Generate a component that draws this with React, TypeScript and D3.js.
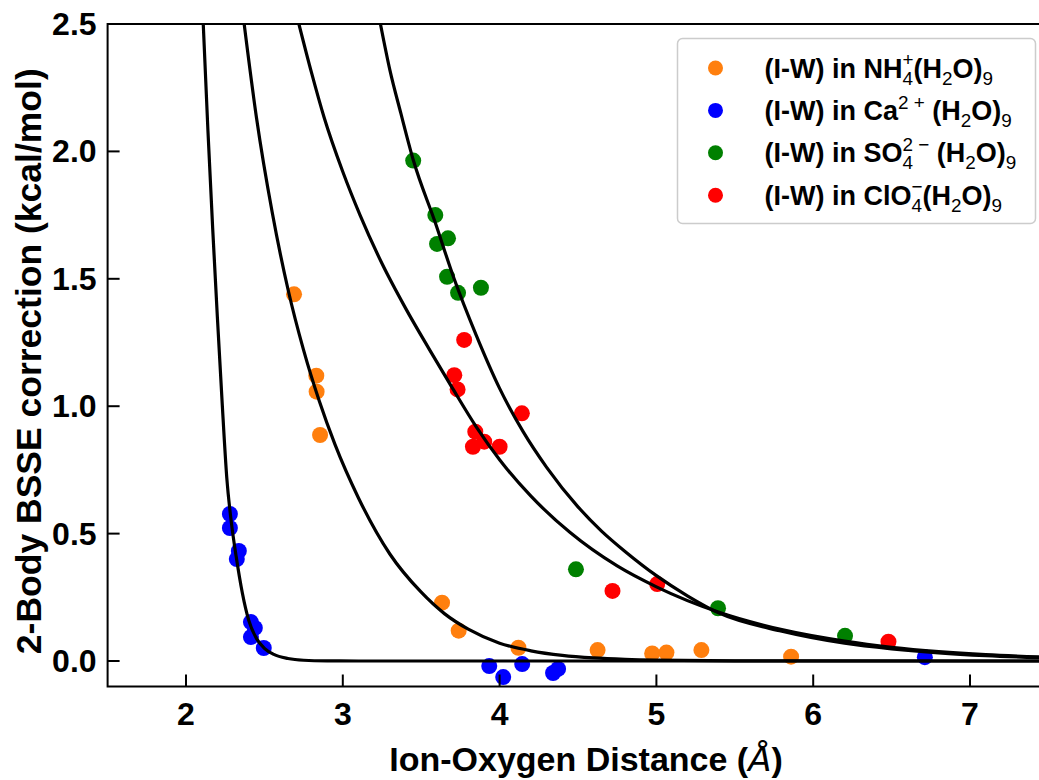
import React from 'react';
import * as d3 from 'd3';

// ---------- data ----------
const xTicks = [2, 3, 4, 5, 6, 7];
const yTicks = [0.0, 0.5, 1.0, 1.5, 2.0, 2.5];

const nh4X = [2.689, 2.831, 2.833, 2.855, 3.633, 3.739, 4.12, 4.625, 4.973, 5.064, 5.287, 5.859];
const nh4Y = [1.439, 1.12, 1.057, 0.887, 0.229, 0.119, 0.052, 0.043, 0.03, 0.033, 0.043, 0.017];

const caX = [2.28, 2.28, 2.337, 2.324, 2.414, 2.439, 2.414, 2.496, 3.934, 4.023, 4.144, 4.341, 4.373, 6.712];
const caY = [0.577, 0.522, 0.432, 0.4, 0.153, 0.13, 0.094, 0.051, -0.02, -0.063, -0.012, -0.047, -0.031, 0.015];

const so4X = [3.449, 3.59, 3.601, 3.671, 3.665, 3.735, 3.881, 4.487, 5.393, 6.203];
const so4Y = [1.964, 1.75, 1.637, 1.659, 1.508, 1.445, 1.465, 0.36, 0.207, 0.099];

const clo4X = [3.774, 3.711, 3.732, 4.142, 3.845, 3.902, 3.83, 4.0, 4.72, 5.005, 6.48];
const clo4Y = [1.26, 1.122, 1.066, 0.972, 0.9, 0.861, 0.841, 0.841, 0.275, 0.302, 0.076];

// fitted curves
const fitCaX = [2.11, 2.14, 2.17, 2.2, 2.23, 2.26, 2.29, 2.32, 2.36, 2.4, 2.45, 2.5, 2.56, 2.65, 2.75, 2.9, 3.1, 7.5];
const fitCaY = [2.5, 2.08, 1.7, 1.35, 1.02, 0.72, 0.54, 0.41, 0.265, 0.16, 0.088, 0.05, 0.026, 0.01, 0.003, 0.0005, 0, 0];

const fitNh4X = [2.371, 2.45, 2.55, 2.65, 2.75, 2.85, 2.95, 3.1, 3.3, 3.5, 3.65, 3.8, 4.0, 4.2, 4.4, 4.6, 4.8, 5.0, 5.5, 6.0, 7.5];
const fitNh4Y = [2.5, 2.13, 1.76, 1.46, 1.22, 1.02, 0.85, 0.64, 0.42, 0.27, 0.185, 0.125, 0.07, 0.04, 0.022, 0.012, 0.0065, 0.0035, 0.0008, 0.0002, 0];

const fitClo4X = [2.72, 2.8, 2.88, 3.0, 3.11, 3.25, 3.4, 3.55, 3.7, 3.85, 4.0, 4.2, 4.45, 4.75, 5.0, 5.4, 5.8, 6.2, 6.5, 6.8, 7.1, 7.5];
const fitClo4Y = [2.5, 2.31, 2.135, 1.92, 1.75, 1.56, 1.385, 1.225, 1.07, 0.92, 0.79, 0.647, 0.504, 0.373, 0.291, 0.191, 0.123, 0.078, 0.054, 0.037, 0.025, 0.015];

const fitSo4X = [3.24, 3.3, 3.37, 3.45, 3.59, 3.71, 3.85, 4.0, 4.15, 4.3, 4.5, 4.65, 4.8, 5.0, 5.2, 5.4, 5.8, 6.2, 6.5, 6.8, 7.1, 7.5];
const fitSo4Y = [2.5, 2.32, 2.15, 1.965, 1.72, 1.5, 1.28, 1.07, 0.9, 0.76, 0.605, 0.51, 0.43, 0.335, 0.255, 0.188, 0.117, 0.07, 0.048, 0.032, 0.021, 0.012];

const seriesColors = ['#ff7f0e', '#0000ff', '#008000', '#ff0000'];

type Seg = { t: string; k: 'm' | 'b' | 'p'; dx?: number };
const legendLabels: Seg[][] = [
  [{ t: '(I-W) in NH', k: 'm' }, { t: '4', k: 'b' }, { t: '+', k: 'p', dx: -1 }, { t: '(H', k: 'm' }, { t: '2', k: 'b' }, { t: 'O)', k: 'm' }, { t: '9', k: 'b' }],
  [{ t: '(I-W) in Ca', k: 'm' }, { t: '2 +', k: 'p' }, { t: ' (H', k: 'm' }, { t: '2', k: 'b' }, { t: 'O)', k: 'm' }, { t: '9', k: 'b' }],
  [{ t: '(I-W) in SO', k: 'm' }, { t: '4', k: 'b' }, { t: '2 \u2212', k: 'p', dx: -1 }, { t: ' (H', k: 'm' }, { t: '2', k: 'b' }, { t: 'O)', k: 'm' }, { t: '9', k: 'b' }],
  [{ t: '(I-W) in ClO', k: 'm' }, { t: '4', k: 'b' }, { t: '\u2212', k: 'p', dx: -1 }, { t: '(H', k: 'm' }, { t: '2', k: 'b' }, { t: 'O)', k: 'm' }, { t: '9', k: 'b' }],
];

// ---------- layout ----------
const W = 1039;
const H = 780;
const X0 = 107.6;
const X1 = 1048.4;
const Y0 = 24;
const Y1 = 686.5;
const FONT = '"Liberation Sans", Arial, sans-serif';

function renderSegs(segs: Seg[], F: number) {
  let cur = 0;
  const sf = 0.7 * F;
  return segs.map((s, i) => {
    const target = s.k === 'm' ? 0 : s.k === 'b' ? 0.26 * F : -0.42 * F;
    const dy = target - cur;
    cur = target;
    const dx = s.dx ? s.dx * 0.556 * sf : 0;
    return (
      <tspan key={i} dy={dy} dx={dx} fontSize={s.k === 'm' ? F : sf} fontWeight={s.k === 'm' ? 'bold' : 'normal'}>
        {s.t}
      </tspan>
    );
  });
}

export default function App() {
  const x = d3.scaleLinear().domain([1.5, 7.5]).range([X0, X1]);
  const y = d3.scaleLinear().domain([-0.1, 2.5]).range([Y1, Y0]);

  const line = d3
    .line<[number, number]>()
    .x((d) => x(d[0]))
    .y((d) => y(d[1]))
    .curve(d3.curveMonotoneX);

  const zip = (a: number[], b: number[]) => a.map((v, i) => [v, b[i]] as [number, number]);

  const scatter = [
    zip(nh4X, nh4Y),
    zip(caX, caY),
    zip(so4X, so4Y),
    zip(clo4X, clo4Y),
  ];
  const fits = [
    zip(fitCaX, fitCaY),
    zip(fitNh4X, fitNh4Y),
    zip(fitClo4X, fitClo4Y),
    zip(fitSo4X, fitSo4Y),
  ];

  const tickLen = 12;
  const legX = 677.5;
  const legY = 38.5;
  const legW = 358;
  const legH = 185;
  const rowGap = 42.4;
  const F = 27;

  return (
    <svg width={W} height={H} style={{ position: 'absolute', left: 0, top: 0, background: '#fff' }} fontFamily={FONT}>
      <defs>
        <clipPath id="plotclip">
          <rect x={X0} y={Y0} width={X1 - X0} height={Y1 - Y0} />
        </clipPath>
      </defs>
      <rect x={0} y={0} width={W} height={H} fill="#fff" />

      <g clipPath="url(#plotclip)">
        {scatter.map((pts, si) =>
          pts.map((p, i) => <circle key={`${si}-${i}`} cx={x(p[0])} cy={y(p[1])} r={8} fill={seriesColors[si]} />)
        )}
        {fits.map((pts, i) => (
          <path key={i} d={line(pts) || ''} fill="none" stroke="#000" strokeWidth={3.2} />
        ))}
      </g>

      {/* spines */}
      <rect x={X0} y={Y0} width={X1 - X0} height={Y1 - Y0} fill="none" stroke="#000" strokeWidth={2} />

      {/* x ticks */}
      {xTicks.map((t) => (
        <g key={t}>
          <line x1={x(t)} x2={x(t)} y1={Y1} y2={Y1 - tickLen} stroke="#000" strokeWidth={2} />
          <text x={x(t)} y={Y1 + 38} textAnchor="middle" fontSize={32} fontWeight="bold">
            {t}
          </text>
        </g>
      ))}
      {/* y ticks */}
      {yTicks.map((t) => (
        <g key={t}>
          <line x1={X0} x2={X0 + tickLen} y1={y(t)} y2={y(t)} stroke="#000" strokeWidth={2} />
          <text x={X0 - 11} y={y(t) + 11} textAnchor="end" fontSize={32} fontWeight="bold">
            {d3.format('.1f')(t)}
          </text>
        </g>
      ))}

      {/* axis labels */}
      <text x={(X0 + X1) / 2 + 8} y={771} textAnchor="middle" fontSize={34} fontWeight="bold" style={{ whiteSpace: 'pre' }}>
        <tspan>Ion-Oxygen Distance (</tspan>
        <tspan fontStyle="italic" fontWeight="normal" fontFamily='"DejaVu Sans", sans-serif'>Å</tspan>
        <tspan>)</tspan>
      </text>
      <text
        transform={`translate(41, ${(Y0 + Y1) / 2 + 6}) rotate(-90)`}
        textAnchor="middle"
        fontSize={35.5}
        fontWeight="bold"
      >
        2-Body BSSE correction (kcal/mol)
      </text>

      {/* legend */}
      <rect x={legX} y={legY} width={legW} height={legH} rx={5} fill="#fff" fillOpacity={0.8} stroke="#cccccc" strokeWidth={1.5} />
      {legendLabels.map((segs, i) => {
        const cy = legY + 29.5 + i * rowGap;
        return (
          <g key={i}>
            <circle cx={legX + 38} cy={cy} r={7.5} fill={seriesColors[i]} />
            <text x={legX + 87} y={cy + 9.5} style={{ whiteSpace: 'pre' }}>
              {renderSegs(segs, F)}
            </text>
          </g>
        );
      })}
    </svg>
  );
}
